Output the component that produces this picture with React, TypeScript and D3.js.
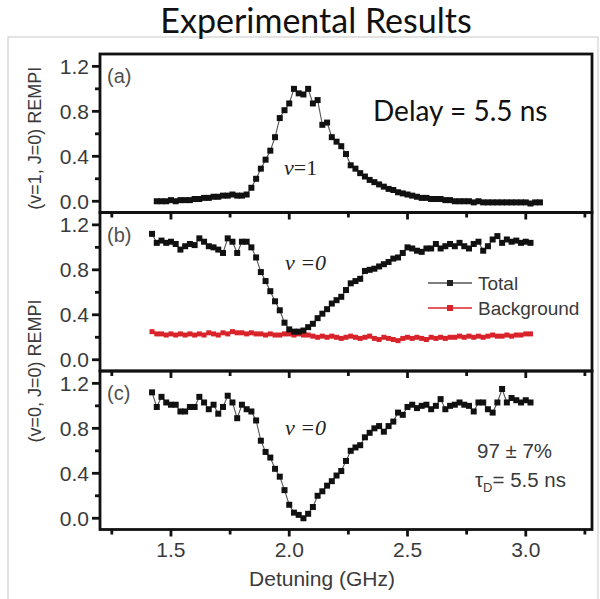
import React from 'react';
import * as d3 from 'd3';

// scan grids (GHz)
const detuningA = [1.44, 1.46, 1.48, 1.50, 1.52, 1.54, 1.56, 1.58, 1.60, 1.62, 1.64, 1.66, 1.68, 1.70, 1.72, 1.74, 1.76, 1.78, 1.80, 1.82,
  1.84, 1.86, 1.88, 1.90, 1.92, 1.94, 1.96, 1.98, 2.00, 2.02, 2.04, 2.06, 2.08, 2.10, 2.12, 2.14, 2.16, 2.18, 2.20, 2.22,
  2.24, 2.26, 2.28, 2.30, 2.32, 2.34, 2.36, 2.38, 2.40, 2.42, 2.44, 2.46, 2.48, 2.50, 2.52, 2.54, 2.56, 2.58, 2.60, 2.62,
  2.64, 2.66, 2.68, 2.70, 2.72, 2.74, 2.76, 2.78, 2.80, 2.82, 2.84, 2.86, 2.88, 2.90, 2.92, 2.94, 2.96, 2.98, 3.00, 3.02,
  3.04, 3.06];
const detuningBC = [1.42, 1.44, 1.46, 1.48, 1.50, 1.52, 1.54, 1.56, 1.58, 1.60, 1.62, 1.64, 1.66, 1.68, 1.70, 1.72, 1.74, 1.76, 1.78, 1.80,
  1.82, 1.84, 1.86, 1.88, 1.90, 1.92, 1.94, 1.96, 1.98, 2.00, 2.02, 2.04, 2.06, 2.08, 2.10, 2.12, 2.14, 2.16, 2.18, 2.20,
  2.22, 2.24, 2.26, 2.28, 2.30, 2.32, 2.34, 2.36, 2.38, 2.40, 2.42, 2.44, 2.46, 2.48, 2.50, 2.52, 2.54, 2.56, 2.58, 2.60,
  2.62, 2.64, 2.66, 2.68, 2.70, 2.72, 2.74, 2.76, 2.78, 2.80, 2.82, 2.84, 2.86, 2.88, 2.90, 2.92, 2.94, 2.96, 2.98, 3.00,
  3.02];

// (a) v=1, J=0
const signalA = [0.00, 0.00, 0.00, 0.01, 0.00, 0.01, 0.01, 0.01, 0.02, 0.02, 0.03, 0.03, 0.04, 0.04, 0.05, 0.05, 0.06, 0.05, 0.05, 0.06,
  0.12, 0.20, 0.29, 0.37, 0.45, 0.57, 0.74, 0.81, 0.87, 1.00, 0.96, 0.95, 1.00, 0.87, 0.90, 0.68, 0.70, 0.57, 0.53, 0.49,
  0.42, 0.32, 0.29, 0.25, 0.22, 0.19, 0.17, 0.15, 0.13, 0.11, 0.10, 0.08, 0.07, 0.06, 0.05, 0.04, 0.03, 0.03, 0.02, 0.02,
  0.02, 0.01, 0.01, 0.00, 0.00, 0.00, 0.00, -0.01, 0.00, -0.01, -0.01, -0.01, -0.01, -0.01, -0.01, -0.01, -0.01, -0.01, -0.01, -0.02,
  -0.01, -0.01];

// (b) v=0, J=0
const totalB = [1.12, 1.04, 1.06, 1.04, 1.05, 1.03, 0.98, 1.01, 1.03, 1.02, 1.08, 1.05, 1.01, 1.00, 0.98, 0.95, 1.08, 1.05, 0.95, 1.05,
  1.05, 1.00, 0.91, 0.78, 0.70, 0.61, 0.52, 0.44, 0.33, 0.27, 0.25, 0.25, 0.26, 0.29, 0.32, 0.37, 0.41, 0.45, 0.50, 0.53,
  0.56, 0.62, 0.68, 0.70, 0.72, 0.79, 0.80, 0.81, 0.83, 0.85, 0.87, 0.90, 0.91, 0.95, 1.00, 0.99, 0.97, 0.96, 0.99, 0.99,
  1.03, 0.99, 1.01, 1.03, 1.01, 1.04, 1.01, 0.99, 1.03, 1.05, 0.97, 1.01, 1.07, 1.10, 1.04, 1.07, 1.05, 1.06, 1.04, 1.05,
  1.04];
const backgroundB = [0.25, 0.23, 0.23, 0.22, 0.23, 0.22, 0.23, 0.22, 0.23, 0.22, 0.23, 0.22, 0.24, 0.23, 0.22, 0.24, 0.23, 0.25, 0.24, 0.24,
  0.23, 0.24, 0.23, 0.23, 0.22, 0.23, 0.22, 0.22, 0.23, 0.23, 0.22, 0.23, 0.22, 0.22, 0.21, 0.20, 0.21, 0.20, 0.21, 0.20,
  0.19, 0.20, 0.21, 0.20, 0.19, 0.20, 0.21, 0.19, 0.18, 0.20, 0.19, 0.18, 0.17, 0.19, 0.20, 0.19, 0.20, 0.19, 0.18, 0.20,
  0.19, 0.20, 0.19, 0.20, 0.20, 0.21, 0.20, 0.21, 0.20, 0.21, 0.20, 0.21, 0.22, 0.21, 0.21, 0.22, 0.21, 0.22, 0.22, 0.23,
  0.23];

// (c) v=0, J=0
const signalC = [1.12, 0.99, 1.08, 1.03, 1.01, 1.01, 0.95, 0.95, 0.99, 0.99, 1.08, 1.03, 0.97, 1.01, 0.93, 0.99, 1.09, 1.03, 0.89, 1.01,
  0.97, 0.95, 0.87, 0.69, 0.59, 0.54, 0.44, 0.37, 0.25, 0.12, 0.05, 0.03, 0.00, 0.04, 0.10, 0.20, 0.24, 0.29, 0.33, 0.38,
  0.42, 0.51, 0.60, 0.63, 0.65, 0.72, 0.76, 0.80, 0.82, 0.77, 0.82, 0.86, 0.94, 0.92, 0.99, 1.01, 0.98, 1.00, 1.01, 0.97,
  1.00, 1.06, 0.97, 1.00, 1.01, 1.03, 1.01, 1.00, 0.95, 1.03, 1.03, 0.97, 0.94, 1.03, 1.15, 1.03, 1.07, 1.05, 1.03, 1.05,
  1.03];

const yTicks = [0, 0.4, 0.8, 1.2];
const yMinorTicks = [0.2, 0.6, 1.0];
const xTicks = [1.5, 2.0, 2.5, 3.0];
const xMinorTicks = [1.25, 1.75, 2.25, 2.75, 3.25];

const ARIAL = '"Liberation Sans", Arial, sans-serif';
const SERIF = '"Liberation Serif", "Times New Roman", serif';
const TEXT = '#3a3a3a';
const RED = '#d9232a';

const left = 100, right = 592;
const panelH = 158.5;
const panelTops = [54, 212.5, 371];

const x = d3.scaleLinear().domain([1.2, 3.28]).range([left, right]);

type Series = { xs: number[]; ys: number[]; color: string; line: string; size: number; lw: number };

const Panel = ({ top, series, tag, showXLabels, children }:
  { top: number; series: Series[]; tag: string; showXLabels: boolean; children?: React.ReactNode }) => {
  const bottom = top + panelH;
  const y = d3.scaleLinear().domain([-0.1, 1.31]).range([bottom, top]);
  return (
    <g>
      {series.map((s, i) => {
        const pts = s.xs.map((d, k) => [x(d), y(s.ys[k])] as [number, number]);
        const path = d3.line()(pts) || '';
        return (
          <g key={i}>
            <path d={path} fill="none" stroke={s.line} strokeWidth={s.lw} />
            {pts.map((p, k) => (
              <rect key={k} x={p[0] - s.size / 2} y={p[1] - s.size / 2} width={s.size} height={s.size} fill={s.color} />
            ))}
          </g>
        );
      })}
      <rect x={left} y={top} width={right - left} height={panelH} fill="none" stroke="#111" strokeWidth={2.8} />
      {yTicks.map(t => (
        <g key={t}>
          <line x1={left - 8} x2={left} y1={y(t)} y2={y(t)} stroke="#111" strokeWidth={2.8} />
          <text x={left - 11} y={y(t)} dy="0.36em" textAnchor="end" fontFamily={ARIAL} fontSize={21} fill={TEXT}>
            {d3.format('.1f')(t)}
          </text>
        </g>
      ))}
      {yMinorTicks.map(t => (
        <line key={t} x1={left - 5} x2={left} y1={y(t)} y2={y(t)} stroke="#111" strokeWidth={2.8} />
      ))}
      {xTicks.map(t => (
        <g key={t}>
          <line x1={x(t)} x2={x(t)} y1={bottom} y2={bottom + 7} stroke="#111" strokeWidth={2.8} />
          {showXLabels && (
            <text x={x(t)} y={bottom + 27} textAnchor="middle" fontFamily={ARIAL} fontSize={21} fill={TEXT}>
              {d3.format('.1f')(t)}
            </text>
          )}
        </g>
      ))}
      {xMinorTicks.map(t => (
        <line key={t} x1={x(t)} x2={x(t)} y1={bottom} y2={bottom + 5} stroke="#111" strokeWidth={2.8} />
      ))}
      <text x={107} y={top + 29} fontFamily={ARIAL} fontSize={20} fill="#505050">{tag}</text>
      {children}
    </g>
  );
};

export default function App() {
  const black = { color: '#111', line: '#555', size: 6, lw: 1.1 };
  const legendY = [283, 308];
  return (
    <svg width={600} height={599} style={{ position: 'absolute', left: 0, top: 0, background: '#fff' }}>
      <rect x={8} y={37} width={590} height={580} fill="none" stroke="#c8c8c8" strokeWidth={1} />
      <text x={316} y={33} textAnchor="middle" fontFamily="Lato, sans-serif" fontSize={34} fill="#111">Experimental Results</text>

      <Panel top={panelTops[0]} tag="(a)" showXLabels={false}
        series={[{ xs: detuningA, ys: signalA, ...black }]}>
        <text x={373} y={121} fontFamily="Lato, sans-serif" fontSize={28} fill="#111">Delay = 5.5 ns</text>
        <text x={284} y={175} fontFamily={SERIF} fontSize={22} fill="#222">
          <tspan fontStyle="italic">ν</tspan>=1
        </text>
      </Panel>

      <Panel top={panelTops[1]} tag="(b)" showXLabels={false}
        series={[
          { xs: detuningBC, ys: backgroundB, color: RED, line: RED, size: 5, lw: 2.5 },
          { xs: detuningBC, ys: totalB, ...black },
        ]}>
        <text x={285} y={270} fontFamily={SERIF} fontSize={22} fontStyle="italic" fill="#222">ν =0</text>
        {[{ label: 'Total', c: '#222', l: '#555' }, { label: 'Background', c: RED, l: RED }].map((d, i) => (
          <g key={d.label}>
            <line x1={428} x2={472} y1={legendY[i]} y2={legendY[i]} stroke={d.l} strokeWidth={1.3} />
            <rect x={447} y={legendY[i] - 3} width={6} height={6} fill={d.c} />
            <text x={478} y={legendY[i]} dy="0.36em" fontFamily={ARIAL} fontSize={19} fill={TEXT}>{d.label}</text>
          </g>
        ))}
      </Panel>

      <Panel top={panelTops[2]} tag="(c)" showXLabels={true}
        series={[{ xs: detuningBC, ys: signalC, ...black }]}>
        <text x={285} y={435} fontFamily={SERIF} fontSize={22} fontStyle="italic" fill="#222">ν =0</text>
        <text x={477} y={458} fontFamily={ARIAL} fontSize={20.5} fill={TEXT}>97 ± 7%</text>
        <text x={475} y={487} fontFamily={ARIAL} fontSize={20.5} fill={TEXT}>
          τ<tspan fontSize={13} dy={5}>D</tspan><tspan dy={-5}>= 5.5 ns</tspan>
        </text>
      </Panel>

      <text x={322} y={586} textAnchor="middle" fontFamily={ARIAL} fontSize={21} fill={TEXT}>Detuning (GHz)</text>
      <text transform={`translate(41,${panelTops[0] + panelH / 2 + 5}) rotate(-90)`} textAnchor="middle" fontFamily={ARIAL} fontSize={18} fill={TEXT}>
        (v=1, J=0) REMPI
      </text>
      <text transform={`translate(41,${panelTops[2]}) rotate(-90)`} textAnchor="middle" fontFamily={ARIAL} fontSize={18} fill={TEXT}>
        (v=0, J=0) REMPI
      </text>
    </svg>
  );
}
